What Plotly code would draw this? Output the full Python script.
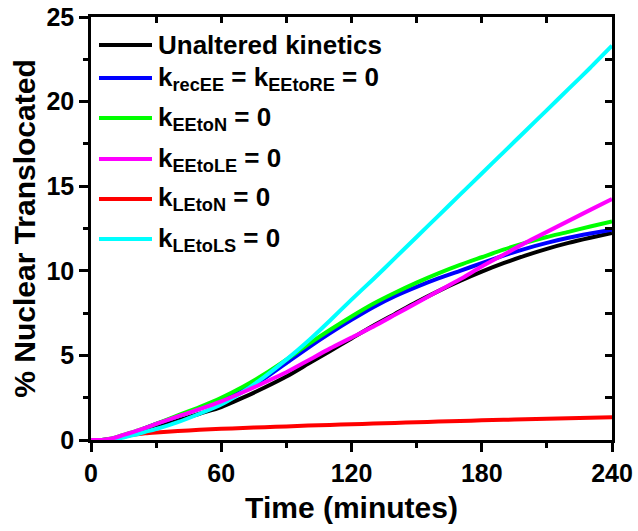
import plotly.graph_objects as go

# ---------------- data ----------------
time_min = [0, 5, 10, 15, 20, 25, 30, 40, 50, 60, 70, 80, 90, 100, 110, 120,
            130, 140, 150, 160, 170, 180, 190, 200, 210, 220, 230, 240]

unaltered = [0, 0.0, 0.05, 0.2, 0.35, 0.55, 0.75, 1.15, 1.55, 1.95, 2.5, 3.1, 3.75,
             4.5, 5.25, 6.0, 6.75, 7.45, 8.15, 8.8, 9.4, 9.95, 10.45, 10.9, 11.3,
             11.65, 11.95, 12.23]
k_recEE = [0, 0.0, 0.08, 0.25, 0.45, 0.7, 0.95, 1.4, 1.85, 2.35, 2.95, 3.65, 4.55,
           5.45, 6.3, 7.1, 7.85, 8.5, 9.05, 9.55, 10.0, 10.45, 10.9, 11.3, 11.65,
           11.95, 12.2, 12.43]
k_EEtoN = [0, 0.0, 0.1, 0.3, 0.5, 0.72, 0.95, 1.45, 1.95, 2.5, 3.15, 3.9, 4.75,
           5.65, 6.5, 7.3, 8.05, 8.7, 9.3, 9.85, 10.35, 10.8, 11.25, 11.65, 12.0,
           12.3, 12.62, 12.92]
k_EEtoLE = [0, 0.0, 0.1, 0.3, 0.5, 0.72, 0.95, 1.4, 1.82, 2.28, 2.82, 3.4, 4.0,
            4.7, 5.4, 6.05, 6.7, 7.4, 8.1, 8.8, 9.5, 10.25, 10.95, 11.65, 12.3,
            12.95, 13.6, 14.24]
k_LEtoN = [0, 0.0, 0.05, 0.2, 0.32, 0.4, 0.45, 0.53, 0.6, 0.66, 0.71, 0.76, 0.8,
           0.85, 0.89, 0.93, 0.97, 1.01, 1.05, 1.09, 1.12, 1.16, 1.19, 1.22, 1.25,
           1.28, 1.31, 1.34]
k_LEtoLS = [0, 0.0, 0.03, 0.15, 0.3, 0.48, 0.65, 1.05, 1.55, 2.1, 2.85, 3.75, 4.75,
            5.85, 7.05, 8.3, 9.5, 10.75, 12.0, 13.25, 14.5, 15.75, 17.0, 18.25,
            19.5, 20.75, 22.0, 23.3]

series_names = [
    "Unaltered kinetics",
    "k<sub>recEE</sub> = k<sub>EEtoRE</sub> = 0",
    "k<sub>EEtoN</sub> = 0",
    "k<sub>EEtoLE</sub> = 0",
    "k<sub>LEtoN</sub> = 0",
    "k<sub>LEtoLS</sub> = 0",
]
series_values = [unaltered, k_recEE, k_EEtoN, k_EEtoLE, k_LEtoN, k_LEtoLS]
series_colors = ["#000000", "#0000FF", "#00FF00", "#FF00FF", "#FF0000", "#00FFFF"]

x_ticks = [0, 60, 120, 180, 240]
y_ticks = [0, 5, 10, 15, 20, 25]

# ---------------- figure ----------------
FONT = "Arial, Liberation Sans, sans-serif"
W, H = 638, 531
ML, MR, MT, MB = 91, 26, 17, 91

fig = go.Figure()
draw_order = [0, 1, 2, 4, 5, 3]
for i in draw_order:
    fig.add_trace(go.Scatter(
        x=time_min, y=series_values[i], name=series_names[i], mode="lines",
        line=dict(color=series_colors[i], width=4, shape="spline", smoothing=0.6),
        showlegend=False, hoverinfo="skip"))

# invisible copy on the mirrored axes so the inward top/right ticks are drawn
fig.add_trace(go.Scatter(x=time_min, y=unaltered, xaxis="x2", yaxis="y2",
                         mode="lines", line=dict(width=0, color="rgba(0,0,0,0)"),
                         showlegend=False, hoverinfo="skip"))

axis_common = dict(showgrid=False, zeroline=False, linecolor="black",
                   tickcolor="black", tickwidth=2.5, automargin=False)

fig.update_layout(
    width=W, height=H,
    margin=dict(l=ML, r=MR, t=MT, b=MB, autoexpand=False),
    paper_bgcolor="white", plot_bgcolor="white",
    font=dict(family=FONT, size=25, color="black", weight="bold"),
    xaxis=dict(range=[0, 240], tickvals=x_ticks, ticks="outside", ticklen=9,
               showline=True, linewidth=2.5, mirror=True,
               minor=dict(dtick=30, tick0=0, ticks="outside", ticklen=5,
                          tickwidth=2.5, tickcolor="black"),
               tickfont=dict(family=FONT, size=25, weight="bold"),
               title=dict(text="Time (minutes)", standoff=12,
                          font=dict(family=FONT, size=30, weight="bold")),
               **axis_common),
    yaxis=dict(range=[0, 25], tickvals=y_ticks, ticks="outside", ticklen=9,
               showline=True, linewidth=2.5, mirror=True,
               minor=dict(dtick=2.5, tick0=0, ticks="outside", ticklen=5,
                          tickwidth=2.5, tickcolor="black"),
               tickfont=dict(family=FONT, size=25, weight="bold"),
               title=dict(text="% Nuclear Translocated", standoff=2,
                          font=dict(family=FONT, size=30, weight="bold")),
               **axis_common),
    xaxis2=dict(overlaying="x", side="top", anchor="y", range=[0, 240],
                tick0=0, dtick=30, ticks="inside", ticklen=6,
                showticklabels=False, showline=False, **axis_common),
    yaxis2=dict(overlaying="y", side="right", anchor="x", range=[0, 25],
                tick0=0, dtick=2.5, ticks="inside", ticklen=7,
                showticklabels=False, showline=False, **axis_common),
)

# ---------------- custom legend ----------------
pw = W - ML - MR
ph = H - MT - MB
def px_x(p):
    return (p - ML) / pw
def px_y(p):
    return (H - MB - p) / ph

row_px = [45, 78, 118, 159, 199, 239]
for name, col, rp in zip(series_names, series_colors, row_px):
    fig.add_shape(type="line", xref="paper", yref="paper",
                  x0=px_x(99), x1=px_x(152), y0=px_y(rp), y1=px_y(rp),
                  line=dict(color=col, width=4))
    fig.add_annotation(xref="paper", yref="paper", x=px_x(156), y=px_y(rp),
                       xanchor="left", yanchor="middle", showarrow=False,
                       text=name, align="left",
                       font=dict(family=FONT, size=26, color="black", weight="bold"))

fig.write_html("out.html")
